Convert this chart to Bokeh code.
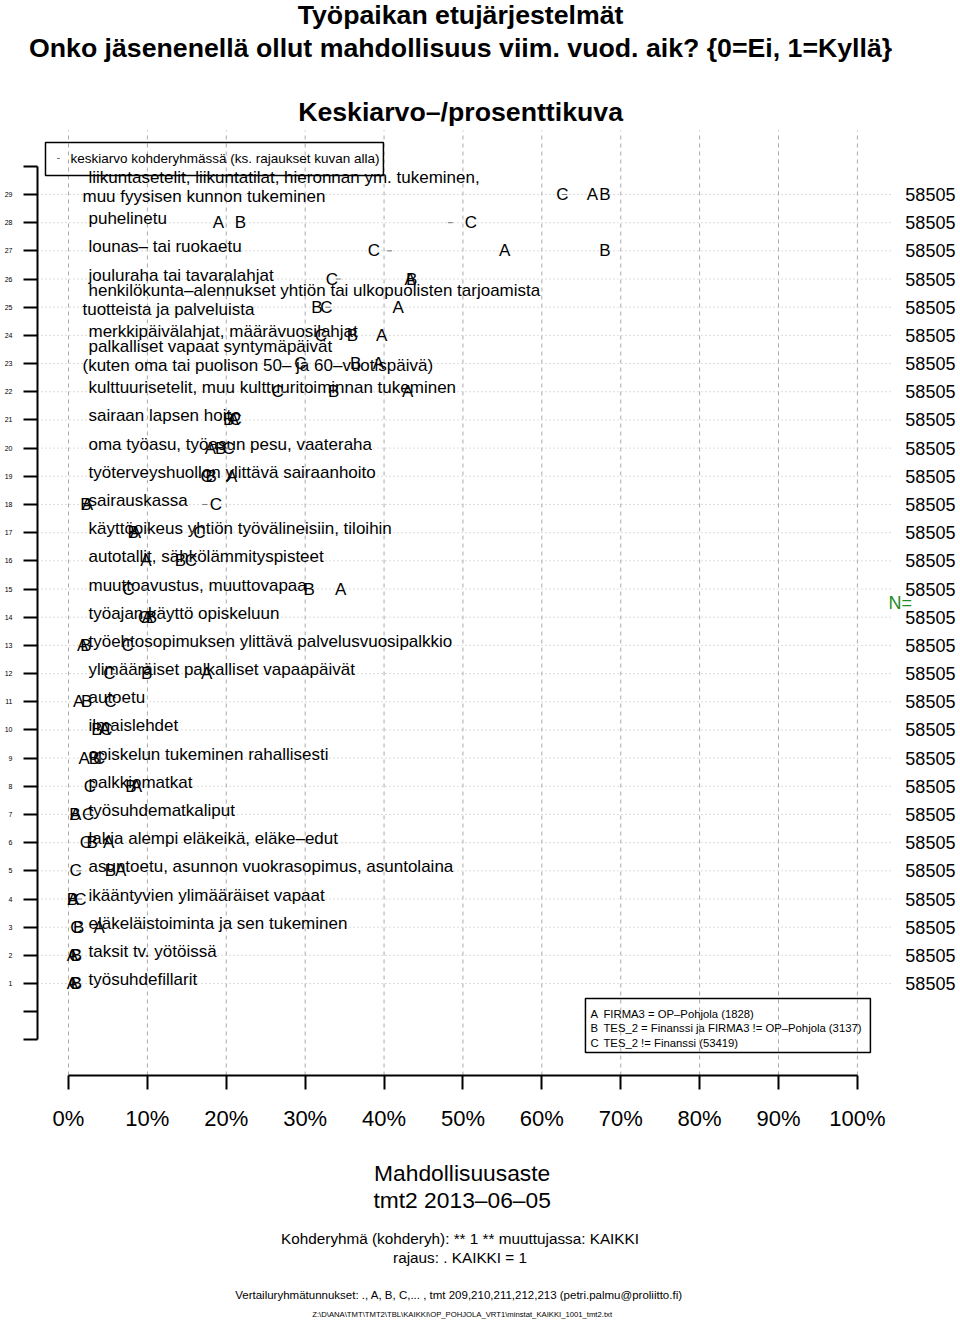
from bokeh.plotting import figure
from bokeh.models import Range1d, FixedTicker, LinearAxis, Label, BoxAnnotation, ColumnDataSource
from bokeh.core.properties import value
from bokeh.embed import file_html
from bokeh.resources import INLINE

FONT = "Liberation Sans"

# ---------------- data ----------------
rows = list(range(29, 0, -1))
labels = [
    "liikuntasetelit, liikuntatilat, hieronnan ym. tukeminen,\nmuu fyysisen kunnon tukeminen",
    "puhelinetu",
    "lounas– tai ruokaetu",
    "jouluraha tai tavaralahjat",
    "henkilökunta–alennukset yhtiön tai ulkopuolisten tarjoamista\ntuotteista ja palveluista",
    "merkkipäivälahjat, määrävuosilahjat",
    "palkalliset vapaat syntymäpäivät\n(kuten oma tai puolison 50– ja 60–vuotispäivä)",
    "kulttuurisetelit, muu kulttuuritoiminnan tukeminen",
    "sairaan lapsen hoito",
    "oma työasu, työasun pesu, vaateraha",
    "työterveyshuollon ylittävä sairaanhoito",
    "sairauskassa",
    "käyttöoikeus yhtiön työvälineisiin, tiloihin",
    "autotallit, sähkölämmityspisteet",
    "muuttoavustus, muuttovapaa",
    "työajan käyttö opiskeluun",
    "työehtosopimuksen ylittävä palvelusvuosipalkkio",
    "ylimääräiset palkalliset vapaapäivät",
    "autoetu",
    "ilmaislehdet",
    "opiskelun tukeminen rahallisesti",
    "palkkiomatkat",
    "työsuhdematkaliput",
    "lakia alempi eläkeikä, eläke–edut",
    "asuntoetu, asunnon vuokrasopimus, asuntolaina",
    "ikääntyvien ylimääräiset vapaat",
    "eläkeläistoiminta ja sen tukeminen",
    "taksit tv. yötöissä",
    "työsuhdefillarit",
]
val_A = [66.4, 19.0, 55.3, 43.3, 41.8, 39.7, 39.3, 43.0, 20.9, 18.0, 20.7, 2.4, 8.5, 9.8, 34.5,
         10.0, 1.8, 17.5, 1.3, 4.6, 2.0, 8.6, 0.9, 5.1, 6.6, 0.6, 3.9, 0.5, 0.5]
val_B = [68.0, 21.8, 68.0, 43.5, 31.5, 36.0, 36.4, 33.6, 20.3, 19.3, 18.1, 2.2, 8.2, 14.2, 30.5,
         10.5, 2.2, 9.9, 2.3, 3.6, 3.3, 7.9, 0.8, 3.0, 5.3, 0.5, 1.3, 1.0, 1.0]
val_C = [62.6, 51.0, 38.7, 33.4, 32.7, 32.0, 29.4, 26.5, 21.2, 20.3, 17.5, 18.7, 16.6, 15.5, 7.6,
         9.6, 7.5, 5.2, 5.3, 4.8, 3.9, 2.7, 2.5, 2.2, 0.9, 1.5, 1.0, 0.8, 0.8]
mean_all = [62.9, 48.4, 40.7, 34.2, 32.9, 32.4, 30.0, 27.3, 21.1, 20.1, 17.6, 17.3, 15.9, 15.2, 9.6,
            9.7, 7.0, 5.8, 5.0, 4.7, 3.8, 3.2, 2.4, 2.3, 1.3, 1.4, 1.1, 0.8, 0.8]
n_vals = [58505, 58505, 58505, 58505, 58505, 58505, 58505, 58505, 58505, 58505, 58505, 58505,
          58505, 58505, 58505, 58505, 58505, 58505, 58505, 58505, 58505, 58505, 58505, 58505,
          58505, 58505, 58505, 58505, 58505]
x_ticks = [0, 10, 20, 30, 40, 50, 60, 70, 80, 90, 100]
x_tick_labels = ["0%", "10%", "20%", "30%", "40%", "50%", "60%", "70%", "80%", "90%", "100%"]
group_letters = ["A", "B", "C"]
group_desc = ["FIRMA3 = OP–Pohjola (1828)",
              "TES_2 = Finanssi ja FIRMA3 != OP–Pohjola (3137)",
              "TES_2 != Finanssi (53419)"]
axis_rows = list(range(-1, 31))

# plot-area limits (data units)
X_LEFT, X_RIGHT = -3.929, 104.56      # left axis / right end of row grid
Y_BOTTOM, Y_TOP = -2.263, 31.271      # bottom axis / top of column grid

# ---------------- figure ----------------
p = figure(width=960, height=1320, output_backend="svg", toolbar_location=None, title=None,
           x_range=Range1d(-8.618, 113.07), y_range=Range1d(-10.957, 35.884),
           min_border_left=0, min_border_right=0, min_border_top=0, min_border_bottom=0)
p.outline_line_color = None
p.background_fill_color = "white"
p.border_fill_color = "white"
p.xgrid.visible = False
p.ygrid.visible = False

# bottom axis
xa = p.xaxis[0]
xa.fixed_location = Y_BOTTOM
xa.ticker = FixedTicker(ticks=x_ticks)
xa.bounds = (0, 100)
xa.major_label_overrides = dict(zip(x_ticks, x_tick_labels))
xa.minor_tick_line_color = None
xa.major_tick_out = 14
xa.major_tick_in = 0
xa.major_tick_line_width = 2
xa.axis_line_width = 2
xa.major_label_standoff = 17
xa.major_label_text_font = FONT
xa.major_label_text_font_size = "22px"
xa.major_label_text_color = "black"

# left axis
ya = p.yaxis[0]
ya.fixed_location = X_LEFT
ya.ticker = FixedTicker(ticks=axis_rows)
ya.bounds = (-1, 30)
ya.major_label_overrides = {-1: "", 0: "", 30: ""}
ya.minor_tick_line_color = None
ya.major_tick_out = 14
ya.major_tick_in = 0
ya.major_tick_line_width = 2
ya.axis_line_width = 2
ya.major_label_standoff = 11
ya.major_label_text_font = FONT
ya.major_label_text_font_size = "7px"
ya.major_label_text_color = "black"

# right axis with N values
ra = LinearAxis(ticker=FixedTicker(ticks=rows), fixed_location=X_RIGHT,
                major_label_overrides={r: str(n) for r, n in zip(rows, n_vals)},
                axis_line_color=None, major_tick_line_color=None, minor_tick_line_color=None,
                major_tick_out=0, major_tick_in=0, minor_tick_out=0, minor_tick_in=0,
                major_label_standoff=12, major_label_text_font=FONT,
                major_label_text_font_size="18px", major_label_text_color="black")
p.add_layout(ra, "right")

# grid lines (column dashed, row dotted)
p.segment(x0=x_ticks, y0=Y_BOTTOM, x1=x_ticks, y1=Y_TOP,
          line_color="#aaaaaa", line_dash="4 4", line_width=1)
p.segment(x0=X_LEFT, y0=rows, x1=X_RIGHT, y1=rows,
          line_color="#bbbbbb", line_dash="1 3", line_width=1)

# row labels (multi-line split)
lx, ly, lt, lxo, lyo = [], [], [], [], []
for r, lab in zip(rows, labels):
    parts = lab.split("\n")
    n = len(parts)
    for i, t in enumerate(parts):
        lx.append(0)
        ly.append(r)
        lt.append(t)
        lxo.append(20 if i == 0 else 14)
        lyo.append(-4 + 6 * (n - 1) - 19 * (n - 1 - i))
lsrc = ColumnDataSource(dict(x=lx, y=ly, t=lt, xo=lxo, yo=lyo))
p.text(x="x", y="y", text="t", x_offset="xo", y_offset="yo", source=lsrc,
       text_font=value(FONT), text_font_size="17px", text_align="left",
       text_baseline="alphabetic", text_color="black")

# mean markers
p.scatter(x=mean_all, y=rows, marker="dash", size=5, line_color="#777777", line_width=1)

# group letters
for letter, vals in zip(group_letters, [val_A, val_B, val_C]):
    src = ColumnDataSource(dict(x=vals, y=rows, t=[letter] * len(vals)))
    p.text(x="x", y="y", text="t", source=src, text_font=value(FONT), text_font_size="17px",
           text_align="center", text_baseline="middle", text_color="black")

# top-left legend
p.add_layout(BoxAnnotation(left=-2.915, right=39.92, bottom=29.674, top=30.845,
                           fill_color=None, line_color="black", line_alpha=1.0, line_width=1.5))
p.scatter(x=[-1.27], y=[30.278], marker="dash", size=3, line_color="#777777")
p.add_layout(Label(x=0.253, y=30.278, text="keskiarvo kohderyhmässä (ks. rajaukset kuvan alla)",
                   text_font=FONT, text_font_size="13.5px", text_baseline="middle",
                   text_align="left", text_color="black"))

# bottom-right legend
p.add_layout(BoxAnnotation(left=65.53, right=101.65, bottom=-1.447, top=0.469,
                           fill_color=None, line_color="black", line_alpha=1.0, line_width=1.5))
for i, (letter, desc) in enumerate(zip(group_letters, group_desc)):
    yy = -0.063 - 0.515 * i
    p.add_layout(Label(x=66.16, y=yy, text=letter, text_font=FONT, text_font_size="11.3px",
                       text_baseline="middle", text_align="left", text_color="black"))
    p.add_layout(Label(x=67.81, y=yy, text=desc, text_font=FONT, text_font_size="11.3px",
                       text_baseline="middle", text_align="left", text_color="black"))

# N=
p.add_layout(Label(x=103.93, y=14.5, text="N=", text_font=FONT, text_font_size="18px",
                   text_baseline="middle", text_align="left", text_color="#228B22"))

# titles
titles = [("Työpaikan etujärjestelmät", 35.387),
          ("Onko jäsenenellä ollut mahdollisuus viim. vuod. aik? {0=Ei, 1=Kyllä}", 34.181),
          ("Keskiarvo–/prosenttikuva", 31.945)]
for t, yy in titles:
    p.add_layout(Label(x=49.7, y=yy, text=t, text_font=FONT, text_font_size="26.7px",
                       text_font_style="bold", text_align="center", text_baseline="middle",
                       text_color="black"))

# bottom texts
bottom_texts = [("Mahdollisuusaste", -5.706, "22.8px"),
                ("tmt2 2013–06–05", -6.664, "22.8px"),
                ("Kohderyhmä (kohderyh): ** 1 ** muuttujassa:  KAIKKI", -8.048, "15.3px"),
                ("rajaus:  . KAIKKI = 1", -8.722, "15.3px"),
                ("Vertailuryhmätunnukset: ., A, B, C,...   , tmt 209,210,211,212,213 (petri.palmu@proliitto.fi)", -10.035, "11.5px"),
                ("Z:\\D\\ANA\\TMT\\TMT2\\TBL\\KAIKKI\\OP_POHJOLA_VRT1\\minstat_KAIKKI_1001_tmt2.txt", -10.745, "7.7px")]
for t, yy, fs in bottom_texts:
    p.add_layout(Label(x=49.9, y=yy, text=t, text_font=FONT, text_font_size=fs,
                       text_align="center", text_baseline="middle", text_color="black"))

open("out.html", "w").write(file_html(p, INLINE))
